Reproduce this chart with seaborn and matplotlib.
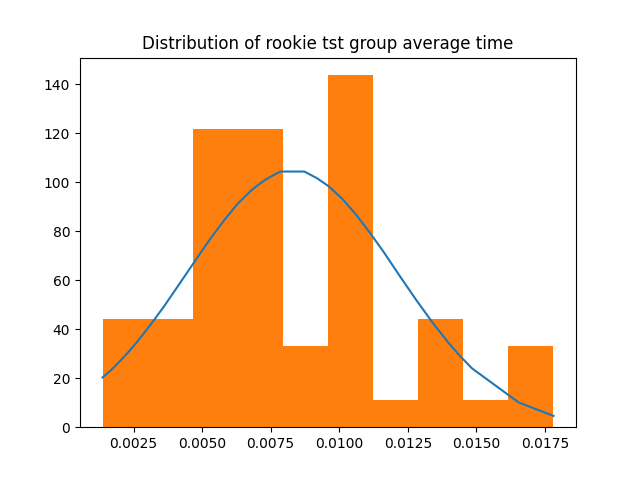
import matplotlib
matplotlib.use("Agg")
import matplotlib.pyplot as plt
import seaborn as sns

# Histogram (density) bin edges and heights
bin_edges = [0.00137, 0.00301, 0.00465, 0.00630, 0.00794, 0.00959,
             0.01123, 0.01288, 0.01452, 0.01617, 0.01781]
bin_heights = [44.2, 44.2, 121.5, 121.5, 33.1, 143.6, 11.05, 44.2, 11.05, 33.1]

# Fitted curve vertices
line_x = [0.00137, 0.0017, 0.0020, 0.0023, 0.0026, 0.0031, 0.0036, 0.0042,
          0.0048, 0.0053, 0.0058, 0.0063, 0.0068, 0.0071, 0.0073, 0.0076,
          0.00785, 0.00873, 0.0092, 0.0096, 0.0101, 0.0106, 0.0111, 0.0116,
          0.0122, 0.0128, 0.0134, 0.0140, 0.0144, 0.01484, 0.01654, 0.01781]
line_y = [20.3, 23.5, 26.9, 30.5, 34.4, 41.5, 49.1, 58.9,
          68.8, 76.9, 84.4, 91.2, 96.7, 99.3, 100.9, 102.8,
          104.3, 104.3, 101.5, 98.4, 93.3, 86.9, 79.6, 71.8,
          61.8, 52.0, 42.7, 34.2, 29.1, 24.0, 10.1, 4.6]

title = "Distribution of rookie tst group average time"

centers = [(bin_edges[i] + bin_edges[i + 1]) / 2 for i in range(len(bin_heights))]

fig, ax = plt.subplots(figsize=(6.4, 4.8), dpi=100)
sns.lineplot(x=line_x, y=line_y, color="C0", sort=False, ax=ax, zorder=2)
sns.histplot(x=centers, weights=bin_heights, bins=bin_edges, color="C1",
             alpha=1, linewidth=0, edgecolor=None, ax=ax, zorder=1)
ax.set_xlabel("")
ax.set_ylabel("")
ax.set_title(title)
fig.savefig("out.png", dpi=100)
